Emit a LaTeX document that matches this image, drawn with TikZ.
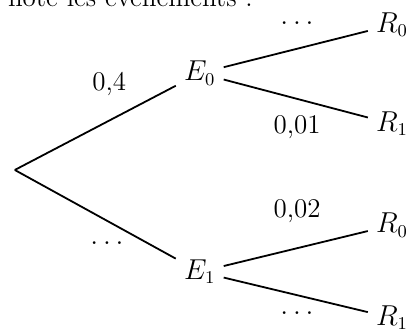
\documentclass[12pt,tikz,border=0pt]{standalone}
\usepackage{tikz}

\begin{document}
\begin{tikzpicture}[branche/.style={line width=0.9pt}, every node/.style={font=\fontsize{13.5}{16}\selectfont}]
	\useasboundingbox (0,0) rectangle (7.17,5.817);
	\node[anchor=base east, inner sep=0pt] (intro) at (4.45,5.71) {note les \'ev\'enements :};

	\coordinate (O) at (0.26,2.83);
	\node (E0) at (3.51,4.53) {$E_0$};
	\node (E1) at (3.51,1.04) {$E_1$};
	\node (R00) at (6.89,5.38) {$R_0$};
	\node (R01) at (6.89,3.64) {$R_1$};
	\node (R10) at (6.89,1.86) {$R_0$};
	\node (R11) at (6.89,0.23) {$R_1$};

	\draw[branche] (O) -- (E0);
	\draw[branche] (O) -- (E1);
	\draw[branche] (E0) -- (R00);
	\draw[branche] (E0) -- (R01);
	\draw[branche] (E1) -- (R10);
	\draw[branche] (E1) -- (R11);

	\node (pE0) at (1.92,4.34) {0,4};
	\node (pE1) at (1.88,1.55) {$\dots$};
	\node (pR00) at (5.22,5.41) {$\dots$};
	\node (pR01) at (5.22,3.58) {0,01};
	\node (pR10) at (5.22,2.11) {0,02};
	\node (pR11) at (5.22,0.32) {$\dots$};
\end{tikzpicture}
\end{document}
